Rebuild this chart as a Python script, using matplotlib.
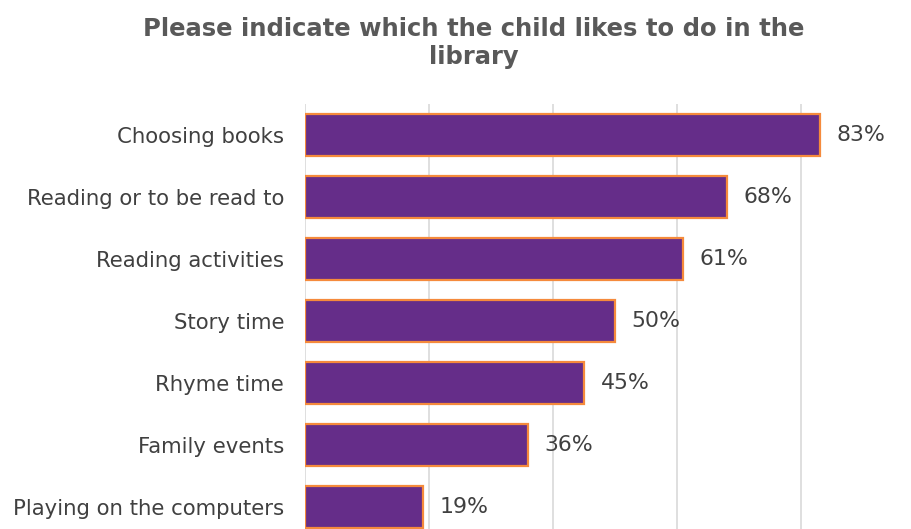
import matplotlib
matplotlib.use("Agg")
import matplotlib.pyplot as plt

categories = ["Choosing books", "Reading or to be read to", "Reading activities",
              "Story time", "Rhyme time", "Family events", "Playing on the computers"]
values = [0.83, 0.68, 0.61, 0.50, 0.45, 0.36, 0.19]
value_labels = ["83%", "68%", "61%", "50%", "45%", "36%", "19%"]
title = "Please indicate which the child likes to do in the\nlibrary"

plt.rcParams['font.family'] = ['DejaVu Sans']
fig = plt.figure(figsize=(9.12, 5.29), dpi=100)
W, H = 912, 529
left, right, top, bottom = 305, 863, 104, 538
ax = fig.add_axes([left / W, (H - bottom) / H, (right - left) / W, (bottom - top) / H])

ypos = list(range(len(categories)))
ax.barh(ypos, values, height=0.68, color="#652D89", edgecolor="#F58A3C", linewidth=1.6, zorder=3)
ax.set_yticks(ypos)
ax.set_yticklabels(categories, fontsize=15.3, color="#404040")
ax.set_ylim(len(categories) - 0.5, -0.5)
ax.set_xlim(0, 0.9)
ax.set_xticks([0, 0.2, 0.4, 0.6, 0.8])
ax.set_xticklabels([])
ax.tick_params(length=0, pad=15)
ax.grid(axis='x', color="#D9D9D9", linewidth=1.2, zorder=0)
for s in ax.spines.values():
    s.set_visible(False)

for y, v, lab in zip(ypos, values, value_labels):
    ax.annotate(lab, (v, y), xytext=(12, 0), textcoords="offset points",
                va="center", ha="left", fontsize=15.8, color="#404040")

fig.text(0.5 * (128 + 820) / W, 1 - 43 / H, title, ha="center", va="center",
         fontsize=17.5, fontweight="bold", color="#595959", linespacing=1.25)

fig.savefig("out.png", dpi=100)
